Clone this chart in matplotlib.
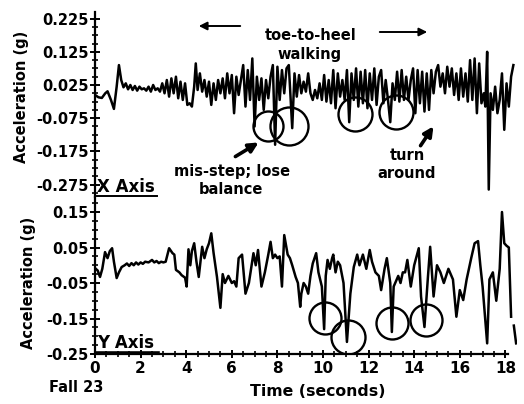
import numpy as np
import matplotlib
matplotlib.use("Agg")
import matplotlib.pyplot as plt
from matplotlib.ticker import MultipleLocator, FixedLocator
from matplotlib.lines import Line2D

plt.rcParams['font.family'] = 'DejaVu Sans'
plt.rcParams['font.weight'] = 'bold'

# X axis acceleration trace (time in s, acceleration in g)
x_time = [0.0, 0.15, 0.3, 0.45, 0.55, 0.7, 0.83, 0.95, 1.05, 1.15, 1.25, 1.35, 1.45, 1.55, 1.65,
          1.75, 1.85, 1.95, 2.05, 2.15, 2.25, 2.35, 2.45, 2.55, 2.65, 2.75, 2.85, 2.95, 3.05, 3.15,
          3.25, 3.35, 3.45, 3.55, 3.65, 3.75, 3.85, 3.95, 4.05, 4.15, 4.25, 4.35, 4.42, 4.5, 4.6,
          4.7, 4.8, 4.9, 5.0, 5.1, 5.2, 5.3, 5.4, 5.5, 5.6, 5.7, 5.8, 5.9, 6.0, 6.1,
          6.2, 6.3, 6.4, 6.5, 6.6, 6.7, 6.8, 6.9, 7.0, 7.1, 7.2, 7.3, 7.4, 7.5, 7.6,
          7.7, 7.8, 7.9, 8.0, 8.1, 8.2, 8.3, 8.4, 8.5, 8.65, 8.75, 8.85, 8.95, 9.05, 9.15,
          9.25, 9.35, 9.45, 9.55, 9.65, 9.75, 9.85, 9.95, 10.05, 10.15, 10.25, 10.35, 10.45, 10.55, 10.65,
          10.75, 10.85, 10.95, 11.05, 11.15, 11.25, 11.35, 11.45, 11.55, 11.65, 11.75, 11.85, 11.95, 12.05, 12.15,
          12.25, 12.35, 12.45, 12.55, 12.65, 12.75, 12.85, 12.95, 13.05, 13.15, 13.25, 13.35, 13.45, 13.55, 13.65,
          13.75, 13.85, 13.95, 14.05, 14.15, 14.25, 14.35, 14.45, 14.55, 14.65, 14.75, 14.85, 14.95, 15.05, 15.15,
          15.25, 15.35, 15.45, 15.55, 15.65, 15.75, 15.85, 15.95, 16.05, 16.15, 16.25, 16.35, 16.45, 16.55, 16.65,
          16.75, 16.85, 16.95, 17.05, 17.12, 17.2, 17.27, 17.35, 17.45, 17.55, 17.65, 17.75, 17.85, 17.95, 18.05,
          18.15, 18.25, 18.35]
x_acc = [-0.005, -0.012, -0.014, 0.0, 0.006, -0.02, -0.047, 0.02, 0.085, 0.04, 0.018, 0.03, 0.012, 0.025, 0.01,
         0.022, 0.008, 0.02, 0.012, 0.015, 0.008, 0.02, 0.005, 0.025, 0.01, 0.015, 0.005, 0.03, 0.0, 0.04,
         -0.01, 0.045, 0.0, 0.05, -0.015, 0.035, -0.02, 0.03, -0.035, -0.03, -0.04, 0.02, 0.09, 0.01, 0.06,
         0.005, 0.04, -0.01, 0.035, -0.035, 0.03, -0.02, 0.04, 0.0, 0.045, -0.015, 0.06, 0.0, 0.055, -0.06,
         0.05, -0.005, 0.04, 0.085, -0.04, 0.07, -0.02, 0.105, -0.1, 0.05, -0.02, 0.045, -0.05, 0.04, -0.015,
         0.05, 0.085, -0.155, 0.08, -0.02, 0.07, 0.0, 0.075, 0.085, -0.105, 0.06, -0.01, 0.055, 0.0, 0.035,
         0.005, 0.06, 0.0, -0.02, 0.01, -0.015, 0.03, -0.02, 0.055, -0.025, 0.04, -0.03, 0.07, -0.045, 0.06,
         -0.01, 0.04, -0.02, 0.07, -0.087, 0.06, -0.02, 0.075, -0.04, 0.065, -0.03, 0.07, -0.045, 0.06, -0.02,
         0.075, -0.035, 0.05, 0.07, -0.03, 0.04, -0.02, -0.087, 0.03, -0.02, 0.065, -0.025, 0.07, -0.02, 0.05,
         -0.02, 0.04, 0.075, -0.06, 0.07, -0.03, 0.065, -0.055, 0.06, -0.05, 0.07, 0.0, 0.065, 0.085, 0.02,
         0.06, 0.0, 0.08, 0.02, 0.075, -0.005, 0.06, -0.02, 0.075, -0.01, 0.06, -0.025, 0.1, -0.02, 0.105,
         -0.06, 0.09, -0.03, 0.0, -0.04, 0.125, -0.29, 0.0, -0.05, 0.02, -0.06, -0.02, 0.06, -0.11, 0.03,
         -0.04, 0.05, 0.085]

# Y axis acceleration trace
y_time = [0.0, 0.12, 0.22, 0.32, 0.44, 0.55, 0.65, 0.75, 0.83, 0.95, 1.05, 1.17, 1.3, 1.4, 1.5,
          1.6, 1.7, 1.8, 1.9, 2.0, 2.1, 2.2, 2.35, 2.5, 2.6, 2.7, 2.8, 2.9, 3.0, 3.1,
          3.25, 3.4, 3.48, 3.55, 3.7, 3.8, 3.95, 4.02, 4.1, 4.18, 4.25, 4.35, 4.45, 4.55, 4.7,
          4.8, 4.9, 5.0, 5.1, 5.2, 5.35, 5.5, 5.6, 5.7, 5.85, 6.0, 6.1, 6.2, 6.3, 6.45,
          6.6, 6.75, 6.95, 7.05, 7.15, 7.3, 7.45, 7.6, 7.7, 7.8, 7.9, 8.0, 8.1, 8.2, 8.3,
          8.45, 8.55, 8.65, 8.8, 8.9, 9.0, 9.05, 9.15, 9.25, 9.35, 9.45, 9.55, 9.7, 9.8, 9.95,
          10.05, 10.12, 10.2, 10.3, 10.4, 10.45, 10.55, 10.65, 10.75, 10.9, 11.05, 11.2, 11.35, 11.5, 11.6,
          11.75, 11.9, 12.05, 12.15, 12.3, 12.45, 12.55, 12.7, 12.8, 12.95, 13.02, 13.1, 13.2, 13.3, 13.4,
          13.5, 13.6, 13.7, 13.85, 14.0, 14.2, 14.3, 14.45, 14.6, 14.7, 14.85, 15.0, 15.15, 15.3, 15.5,
          15.7, 15.85, 16.0, 16.15, 16.3, 16.5, 16.65, 16.8, 16.9, 17.0, 17.2, 17.3, 17.45, 17.6, 17.75,
          17.85, 17.95, 18.05, 18.15, 18.25]
y_acc = [-0.008, -0.015, -0.033, -0.01, 0.037, 0.02, 0.04, 0.048, 0.01, -0.036, -0.02, -0.005, 0.0, 0.005, -0.002,
         0.006, 0.0, 0.008, 0.002, 0.008, 0.004, 0.01, 0.008, 0.015, 0.008, 0.012, 0.006, 0.01, 0.008, 0.01,
         0.048, 0.034, 0.03, -0.013, -0.02, -0.028, -0.035, -0.06, 0.045, 0.0, 0.04, 0.062, 0.01, -0.033, 0.052,
         0.02, 0.045, 0.062, 0.09, 0.035, -0.033, -0.12, -0.025, -0.05, -0.03, -0.05, -0.045, -0.06, 0.02, 0.03,
         -0.08, -0.05, 0.034, 0.0, 0.043, -0.06, -0.02, 0.03, 0.066, 0.02, 0.03, 0.02, 0.025, -0.06, 0.085,
         0.03, 0.02, 0.0, -0.033, -0.05, -0.117, -0.08, -0.05, -0.06, -0.08, -0.03, 0.005, 0.034, -0.02, -0.06,
         -0.18, -0.03, 0.015, -0.01, 0.02, 0.03, -0.02, 0.01, 0.0, -0.05, -0.216, -0.08, -0.005, 0.03, 0.0,
         0.03, -0.01, 0.043, 0.01, -0.02, -0.03, -0.07, -0.01, 0.02, -0.05, -0.188, -0.06, -0.045, -0.03, -0.05,
         -0.02, -0.02, 0.015, -0.06, 0.0, 0.048, -0.088, -0.174, -0.035, 0.052, -0.088, 0.0, -0.02, -0.05, -0.01,
         -0.04, -0.145, -0.07, -0.098, -0.04, 0.02, 0.062, 0.068, 0.0, -0.06, -0.22, -0.04, -0.02, -0.1, -0.01,
         0.15, 0.062, 0.055, 0.05, -0.145]
y_tail_time = [18.37, 18.47]
y_tail_acc = [-0.17, -0.22]

# circled events (time, acceleration, circle radius in px)
x_circles = [(7.6, -0.1, 15), (8.5, -0.1, 19), (11.4, -0.062, 17), (13.2, -0.056, 17)]
y_circles = [(10.09, -0.149, 16), (11.1, -0.202, 17), (13.03, -0.163, 16), (14.52, -0.154, 16)]

W, H = 524, 404
fig = plt.figure(figsize=(W / 100, H / 100), dpi=100)

def fx(px):
    return px / W

def fy(py):
    return 1 - py / H

left = 95
right = 95 + 18.5 * 22.8
ax1 = fig.add_axes([fx(left), fy(197), fx(right) - fx(left), fy(12) - fy(197)])
ax2 = fig.add_axes([fx(left), fy(354), fx(right) - fx(left), fy(197) - fy(354)])

lw = 1.8
ax1.plot(x_time, x_acc, color='black', lw=lw)
ax2.plot(y_time, y_acc, color='black', lw=lw)
ax2.plot(y_tail_time, y_tail_acc, color='black', lw=lw)

for t, v, r in x_circles:
    ax1.plot(t, v, marker='o', ms=2 * r * 0.72, mfc='none', mec='black', mew=1.7)
for t, v, r in y_circles:
    ax2.plot(t, v, marker='o', ms=2 * r * 0.72, mfc='none', mec='black', mew=1.7)

ax1.set_xlim(0, 18.5)
ax2.set_xlim(0, 18.5)
ax1.set_ylim(-0.3124, 0.2449)
ax2.set_ylim(-0.25, 0.1923)

for ax in (ax1, ax2):
    ax.spines['top'].set_visible(False)
    ax.spines['right'].set_visible(False)
    ax.spines['left'].set_linewidth(1.6)
    ax.yaxis.set_minor_locator(MultipleLocator(0.025))
    ax.tick_params(axis='y', which='major', direction='inout', length=7, width=1.4, pad=1, labelsize=10.5)
    ax.tick_params(axis='y', which='minor', direction='inout', length=4, width=1.2)

ax1.spines['bottom'].set_visible(False)
ax1.set_xticks([])
ax1.set_yticks([0.225, 0.125, 0.025, -0.075, -0.175, -0.275])
ax1.set_yticklabels(['0.225', '0.125', '0.025', '-0.075', '-0.175', '-0.275'])

ax2.set_yticks([0.15, 0.05, -0.05, -0.15, -0.25])
ax2.set_yticklabels(['0.15', '0.05', '-0.05', '-0.15', '-0.25'])
ax2.spines['bottom'].set_bounds(0, 18.1)
ax2.spines['bottom'].set_linewidth(1.6)
ax2.set_xticks(list(range(0, 19, 2)))
ax2.xaxis.set_minor_locator(FixedLocator([i * 0.5 for i in range(37)]))
ax2.tick_params(axis='x', which='major', direction='inout', length=6, width=1.4, pad=2, labelsize=11)
ax2.tick_params(axis='x', which='minor', direction='inout', length=4, width=1.2)

# axis titles
fig.text(fx(22), fy(97), 'Acceleration (g)', rotation=90, ha='center', va='center', fontsize=10.5, fontweight='bold')
fig.text(fx(29), fy(283), 'Acceleration (g)', rotation=90, ha='center', va='center', fontsize=10.5, fontweight='bold')
fig.text(fx(318), fy(391), 'Time (seconds)', ha='center', va='center', fontsize=11.3, fontweight='bold')
fig.text(fx(76), fy(388), 'Fall 23', ha='center', va='center', fontsize=10.5, fontweight='bold')

fig.text(fx(97), fy(187), 'X Axis', ha='left', va='center', fontsize=12, fontweight='bold')
fig.add_artist(Line2D([fx(97), fx(157)], [fy(196), fy(196)], color='black', lw=1.4))
fig.text(fx(97), fy(343), 'Y Axis', ha='left', va='center', fontsize=12, fontweight='bold')
fig.add_artist(Line2D([fx(96), fx(158)], [fy(353), fy(353)], color='black', lw=2.6))

# annotations
fig.text(fx(311), fy(35), 'toe-to-heel', ha='center', va='center', fontsize=10.5, fontweight='bold')
fig.text(fx(310), fy(54), 'walking', ha='center', va='center', fontsize=10.5, fontweight='bold')
fig.text(fx(232), fy(172), 'mis-step; lose', ha='center', va='center', fontsize=10.5, fontweight='bold')
fig.text(fx(231), fy(190), 'balance', ha='center', va='center', fontsize=10.5, fontweight='bold')
fig.text(fx(407), fy(155), 'turn', ha='center', va='center', fontsize=10.5, fontweight='bold')
fig.text(fx(407), fy(174), 'around', ha='center', va='center', fontsize=10.5, fontweight='bold')

def arrow(x0, y0, x1, y1, width, scale):
    fig.add_artist(matplotlib.patches.FancyArrowPatch(
        (fx(x0), fy(y0)), (fx(x1), fy(y1)), transform=fig.transFigure,
        arrowstyle='-|>', mutation_scale=scale, lw=width, color='black'))

arrow(243, 26, 196, 26, 1.4, 12)
arrow(377, 32, 430, 32, 1.4, 12)
arrow(233, 158, 261, 141, 2.6, 14)
arrow(419, 148, 435, 124, 2.6, 14)

fig.savefig('out.png', dpi=100)
